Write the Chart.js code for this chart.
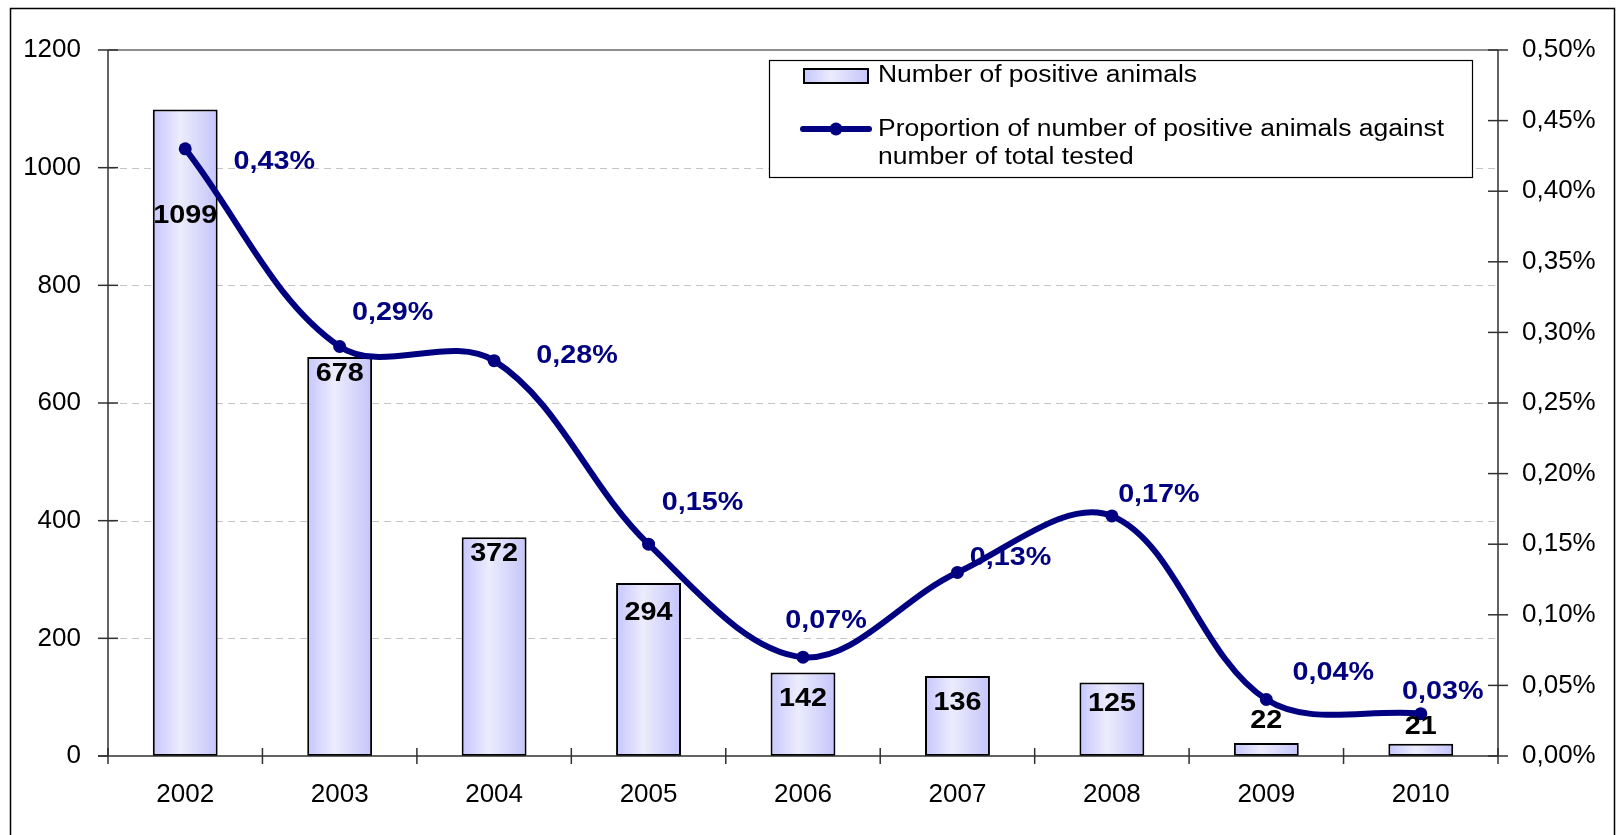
<!DOCTYPE html>
<html>
<head>
<meta charset="utf-8">
<script src="https://cdn.jsdelivr.net/npm/chart.js@4/dist/chart.umd.min.js"></script>
<style>
  html, body { margin: 0; padding: 0; background: #ffffff; }
  #wrap { width: 1621px; height: 835px; position: relative; }
</style>
</head>
<body>
<div id="wrap"><canvas id="c" width="1621" height="835"></canvas></div>
<script>
// ---- data ----
const years = ['2002', '2003', '2004', '2005', '2006', '2007', '2008', '2009', '2010'];
const positiveAnimals = [1099, 678, 372, 294, 142, 136, 125, 22, 21];
const proportionPct = [0.43, 0.29, 0.28, 0.15, 0.07, 0.13, 0.17, 0.04, 0.03];
const leftTicks = [0, 200, 400, 600, 800, 1000, 1200];
const rightTicks = [0, 0.05, 0.10, 0.15, 0.20, 0.25, 0.30, 0.35, 0.40, 0.45, 0.50];
const barSeriesName = 'Number of positive animals';
const lineSeriesName = ['Proportion of number of positive animals against', 'number of total tested'];

// ---- styling ----
const FONT = '"Liberation Sans", Arial, sans-serif';
const NAVY = '#000080';
const barLabelDy = [107, 17, 17, 30, 27, 27, 22, -22, -17];
const pctLabelD = [[89, 13], [53, -33], [83, -5], [54, -41], [23, -36], [53, -14], [47, -21], [67, -26], [22, -22]];

function barGradient(ctx, x0, x1) {
  const g = ctx.createLinearGradient(x0, 0, x1, 0);
  g.addColorStop(0, '#c6c6ff');
  g.addColorStop(0.42, '#ececfc');
  g.addColorStop(1, '#c4c4fb');
  return g;
}

function stretchedText(ctx, txt, x, y, sx) {
  ctx.save();
  ctx.translate(x, y);
  ctx.scale(sx, 1);
  ctx.fillText(txt, 0, 0);
  ctx.restore();
}

const decorPlugin = {
  id: 'decor',
  beforeDatasetsDraw(chart) {
    const { ctx, chartArea: a, scales } = chart;
    const y = scales.y;
    ctx.save();
    ctx.strokeStyle = '#c4c4c4';
    ctx.lineWidth = 1;
    ctx.setLineDash([7, 5]);
    leftTicks.forEach(v => {
      if (v === 0 || v === 1200) return;
      const py = Math.round(y.getPixelForValue(v)) + 0.5;
      ctx.beginPath(); ctx.moveTo(a.left, py); ctx.lineTo(a.right, py); ctx.stroke();
    });
    ctx.setLineDash([]);
    ctx.strokeStyle = '#909090';
    ctx.lineWidth = 2;
    ctx.beginPath(); ctx.moveTo(a.left, a.top); ctx.lineTo(a.right, a.top); ctx.stroke();
    ctx.restore();
  },
  afterDatasetsDraw(chart) {
    const { ctx, chartArea: a, scales } = chart;
    const y = scales.y, y1 = scales.y1;
    ctx.save();
    ctx.strokeStyle = '#303030';
    ctx.lineWidth = 1.5;
    ctx.beginPath(); ctx.moveTo(a.left, a.top); ctx.lineTo(a.left, a.bottom); ctx.stroke();
    leftTicks.forEach(v => {
      const py = y.getPixelForValue(v);
      ctx.beginPath(); ctx.moveTo(a.left - 10, py); ctx.lineTo(a.left + (v === 0 ? 0 : 10), py); ctx.stroke();
    });
    ctx.beginPath(); ctx.moveTo(a.right, a.top); ctx.lineTo(a.right, a.bottom); ctx.stroke();
    rightTicks.forEach(v => {
      const py = y1.getPixelForValue(v);
      ctx.beginPath(); ctx.moveTo(a.right - 10, py); ctx.lineTo(a.right + 10, py); ctx.stroke();
    });
    ctx.beginPath(); ctx.moveTo(a.left - 10, a.bottom); ctx.lineTo(a.right, a.bottom); ctx.stroke();
    const step = (a.right - a.left) / years.length;
    for (let i = 0; i <= years.length; i++) {
      const px = a.left + step * i;
      ctx.beginPath(); ctx.moveTo(px, a.bottom - 8); ctx.lineTo(px, a.bottom + 8); ctx.stroke();
    }
    ctx.fillStyle = '#000';
    ctx.font = 'bold 25px ' + FONT;
    ctx.textAlign = 'center';
    ctx.textBaseline = 'middle';
    const barMeta = chart.getDatasetMeta(0);
    barMeta.data.forEach((el, i) => {
      stretchedText(ctx, String(positiveAnimals[i]), el.x, el.y + barLabelDy[i], 1.15);
    });
    ctx.fillStyle = NAVY;
    const lineMeta = chart.getDatasetMeta(1);
    lineMeta.data.forEach((el, i) => {
      const txt = proportionPct[i].toFixed(2).replace('.', ',') + '%';
      stretchedText(ctx, txt, el.x + pctLabelD[i][0], el.y + pctLabelD[i][1], 1.15);
    });
    ctx.restore();
  },
  afterDraw(chart) {
    const { ctx } = chart;
    ctx.save();
    ctx.strokeStyle = '#000';
    ctx.lineWidth = 1.5;
    ctx.strokeRect(10.5, 8.5, 1604, 900);
    // legend
    const lx = 769, ly = 60, lw = 703, lh = 117;
    ctx.fillStyle = '#fff';
    ctx.fillRect(lx, ly, lw, lh);
    ctx.lineWidth = 1.2;
    ctx.strokeStyle = '#000';
    ctx.strokeRect(lx + 0.5, ly + 0.5, lw, lh);
    ctx.fillStyle = barGradient(ctx, 804, 868);
    ctx.fillRect(804, 69, 64, 14);
    ctx.lineWidth = 2;
    ctx.strokeRect(804, 69, 64, 14);
    ctx.strokeStyle = NAVY;
    ctx.lineWidth = 6;
    ctx.lineCap = 'round';
    ctx.beginPath(); ctx.moveTo(803, 129); ctx.lineTo(869, 129); ctx.stroke();
    ctx.fillStyle = NAVY;
    ctx.beginPath(); ctx.arc(836, 129, 6.5, 0, Math.PI * 2); ctx.fill();
    ctx.fillStyle = '#000';
    ctx.font = '23px ' + FONT;
    ctx.textAlign = 'left';
    ctx.textBaseline = 'middle';
    const ds = chart.data.datasets;
    stretchedText(ctx, ds[0].label, 878, 76, 1.15);
    stretchedText(ctx, lineSeriesName[0], 878, 130, 1.15);
    stretchedText(ctx, lineSeriesName[1], 878, 158, 1.15);
    ctx.restore();
  }
};

const ctx = document.getElementById('c').getContext('2d');
new Chart(ctx, {
  data: {
    labels: years,
    datasets: [
      {
        type: 'bar',
        label: barSeriesName,
        data: positiveAnimals,
        yAxisID: 'y',
        order: 2,
        backgroundColor: (c) => {
          const ch = c.chart;
          if (!ch.chartArea || c.dataIndex === undefined) return '#d8d8ff';
          const xs = ch.scales.x;
          const cx = xs.getPixelForValue(c.dataIndex);
          const half = (ch.chartArea.right - ch.chartArea.left) / years.length * 0.42 / 2;
          return barGradient(ch.ctx, cx - half, cx + half);
        },
        borderColor: '#000',
        borderWidth: 2,
        borderSkipped: false,
        barPercentage: 0.42,
        categoryPercentage: 1.0
      },
      {
        type: 'line',
        label: lineSeriesName.join(' '),
        data: proportionPct,
        yAxisID: 'y1',
        order: 1,
        borderColor: NAVY,
        backgroundColor: NAVY,
        borderWidth: 6,
        tension: 0.35,
        pointRadius: 6.5,
        pointBorderWidth: 0,
        pointBackgroundColor: NAVY,
        fill: false
      }
    ]
  },
  options: {
    responsive: false,
    animation: false,
    layout: { padding: { top: 50, left: 0, right: 0, bottom: 0 } },
    plugins: { legend: { display: false }, tooltip: { enabled: false } },
    scales: {
      x: {
        type: 'category',
        offset: true,
        grid: { display: false, drawTicks: false },
        border: { display: false },
        ticks: { color: '#000', font: { family: FONT, size: 26 }, padding: 23, maxRotation: 0 },
        afterFit(s) { s.height = 79; }
      },
      y: {
        position: 'left',
        min: 0, max: 1200,
        afterBuildTicks(s) { s.ticks = leftTicks.map(v => ({ value: v })); },
        grid: { display: false, drawTicks: false },
        border: { display: false },
        ticks: { color: '#000', font: { family: FONT, size: 26 }, padding: 27,
          callback: (v) => String(v) },
        afterFit(s) { s.width = 108; }
      },
      y1: {
        position: 'right',
        min: 0, max: 0.5,
        afterBuildTicks(s) { s.ticks = rightTicks.map(v => ({ value: v })); },
        grid: { display: false, drawTicks: false },
        border: { display: false },
        ticks: {
          color: '#000', font: { family: FONT, size: 26 }, padding: 24,
          callback: (v) => Number(v).toFixed(2).replace('.', ',') + '%'
        },
        afterFit(s) { s.width = 123; }
      }
    }
  },
  plugins: [decorPlugin]
});
</script>
</body>
</html>
